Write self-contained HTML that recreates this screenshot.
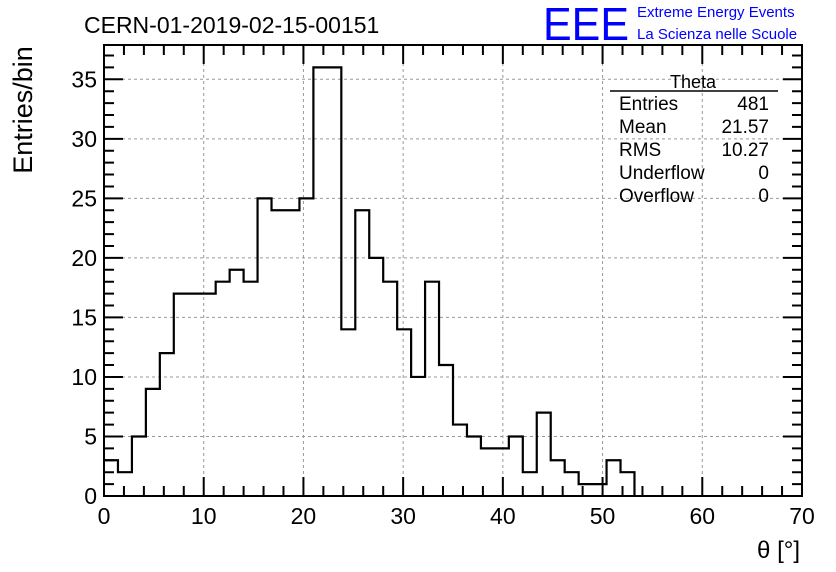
<!DOCTYPE html>
<html><head><meta charset="utf-8"><style>
body{margin:0;background:#fff;}
svg{display:block;font-family:"Liberation Sans",sans-serif;}
</style></head><body>
<svg id="c" width="836" height="572">
<text x="84" y="33" font-size="23">CERN-01-2019-02-15-00151</text>
<text x="543" y="40" font-size="46" fill="#0000ff" textLength="86" lengthAdjust="spacingAndGlyphs">EEE</text>
<text x="637" y="17" font-size="15" fill="#0000ff">Extreme Energy Events</text>
<text x="637" y="39" font-size="15" fill="#0000ff">La Scienza nelle Scuole</text>
<text transform="translate(32,110) rotate(-90)" text-anchor="middle" font-size="27">Entries/bin</text>
<text x="800" y="558" text-anchor="end" font-size="24">θ [°]</text>
<g id="grid"></g><g id="ticks"></g><g id="hist"></g>
<rect x="104" y="45" width="698" height="451" fill="none" stroke="#000" stroke-width="2"/>
<g font-size="19">
<text x="693" y="88" text-anchor="middle" font-size="18">Theta</text>
<line x1="610" y1="91" x2="778" y2="91" stroke="#000" stroke-width="1.5"/>
<text x="619" y="110">Entries</text><text x="769" y="110" text-anchor="end">481</text>
<text x="619" y="133">Mean</text><text x="769" y="133" text-anchor="end">21.57</text>
<text x="619" y="156">RMS</text><text x="769" y="156" text-anchor="end">10.27</text>
<text x="619" y="179">Underflow</text><text x="769" y="179" text-anchor="end">0</text>
<text x="619" y="202">Overflow</text><text x="769" y="202" text-anchor="end">0</text>
</g>
</svg>
<script>
const counts=[3,2,5,9,12,17,17,17,18,19,18,25,24,24,25,36,36,14,24,20,18,14,10,18,11,6,5,4,4,5,2,7,3,2,1,1,3,2,0,0,0,0,0,0,0,0,0,0,0,0];
const xTicks=[0,10,20,30,40,50,60,70];
const yTicks=[0,5,10,15,20,25,30,35];
const binWidth=1.4, xMax=70, yMax=37.88;
const L=104,R=802,T=45,B=496;
const sx=v=>L+v/xMax*(R-L), sy=v=>B-v/yMax*(B-T);
const NS="http://www.w3.org/2000/svg";
function mk(p,tag,a){const e=document.createElementNS(NS,tag);for(const k in a)e.setAttribute(k,a[k]);p.appendChild(e);return e;}
const grid=document.getElementById('grid'),tk=document.getElementById('ticks'),hg=document.getElementById('hist');
xTicks.forEach(v=>{
 if(v>0&&v<xMax){const g=mk(grid,'line',{x1:sx(v),x2:sx(v),y1:T,y2:B,stroke:'#999','stroke-dasharray':'3,3'});
 
 }
 const t=mk(tk,'text',{x:sx(v),y:B+28,'text-anchor':'middle','font-size':23});t.textContent=v;
 
 
});
yTicks.forEach(v=>{
 if(v>0){const g=mk(grid,'line',{x1:L,x2:R,y1:sy(v),y2:sy(v),stroke:'#999','stroke-dasharray':'3,3'});
 
 }
 const t=mk(tk,'text',{x:L-7,y:sy(v)+8,'text-anchor':'end','font-size':23});t.textContent=v;
 
 
});
let d='';
for(let v=0;v<=xMax;v+=2){const len=(v%10===0)?19:10,x=sx(v);d+=`M${x},${B}v${-len}M${x},${T}v${len}`;}
for(let v=0;v<=yMax;v+=1){const len=(v%5===0)?19:10,y=sy(v);d+=`M${L},${y}h${len}M${R},${y}h${-len}`;}
const tp=mk(tk,'path',{d:d,stroke:'#000','stroke-width':2,fill:'none'});


let last=counts.length-1;while(last>0&&counts[last]===0)last--;
let p=`M${sx(0)},${sy(counts[0])}`;
for(let i=0;i<=last;i++){p+=`H${sx((i+1)*binWidth)}`;p+=`V${sy(i<last?counts[i+1]:0)}`;}
const hp=mk(hg,'path',{d:p,stroke:'#000','stroke-width':2.2,fill:'none'});


</script>
</body></html>
